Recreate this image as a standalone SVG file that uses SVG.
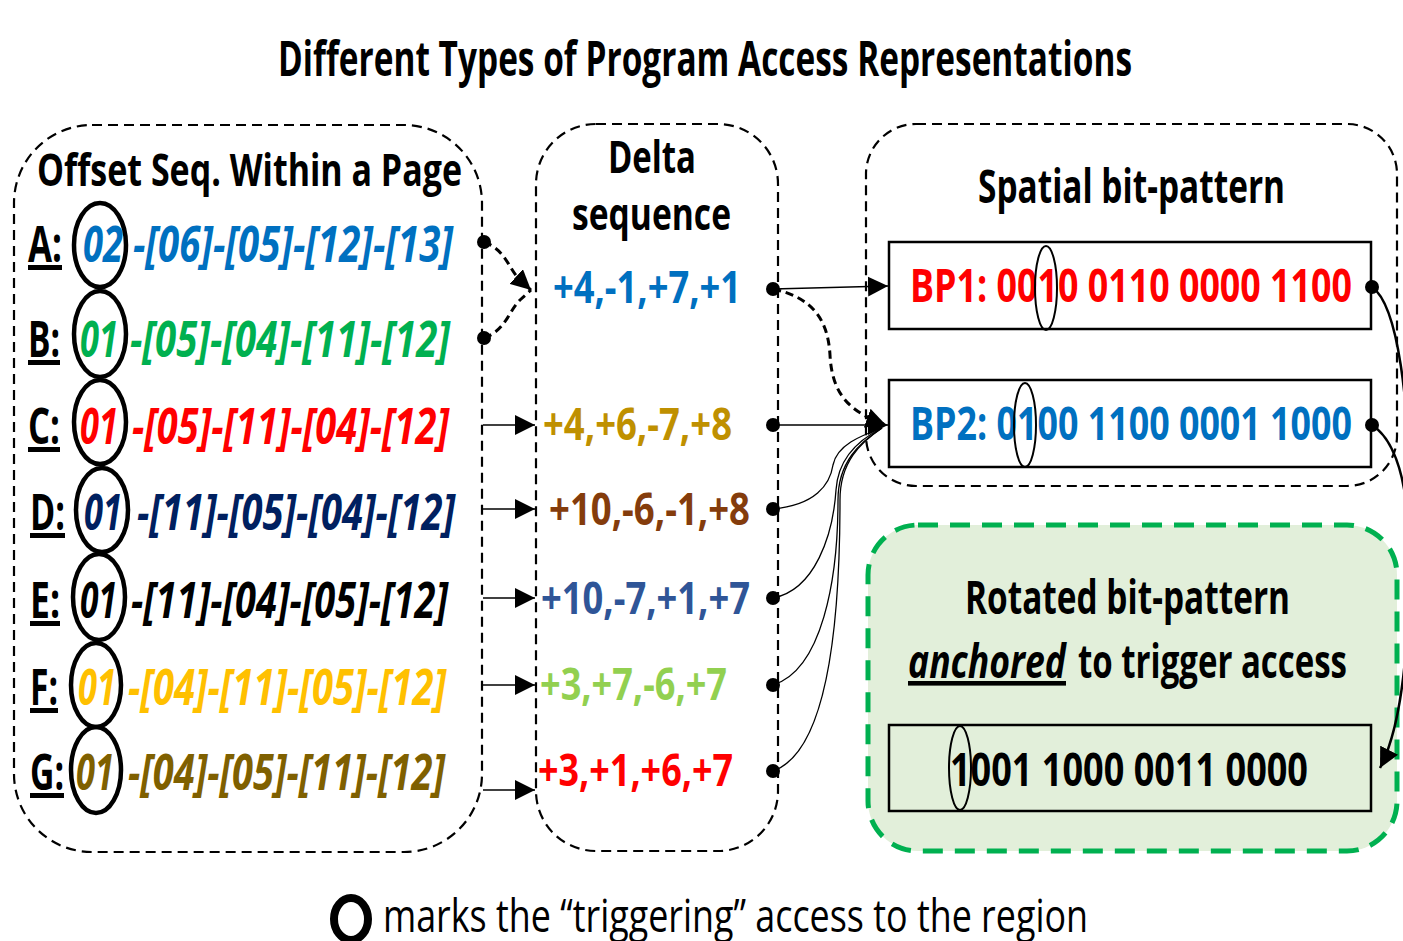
<svg xmlns="http://www.w3.org/2000/svg" width="1403" height="941" viewBox="0 0 1403 941">
<style>
text{font-family:"Open Sans","Liberation Sans",sans-serif;font-weight:bold;}
.reg{font-weight:normal;}
.it{font-style:italic;}
.ul{text-decoration:underline;}
.box{fill:none;stroke:#000;stroke-width:2.2;stroke-dasharray:10,6;}
.bp{fill:none;stroke:#000;stroke-width:2.5;}
.ring{fill:none;stroke:#000;stroke-width:4.5;}
.thin{fill:none;stroke:#000;stroke-width:2;}
.conn{fill:none;stroke:#000;stroke-width:1.3;}
.dash{fill:none;stroke:#000;stroke-width:3;stroke-dasharray:8,5;}
.dot{fill:#000;}
</style>
<defs>
<marker id="ahb" viewBox="0 0 10 10" refX="10" refY="5" markerWidth="20" markerHeight="20" markerUnits="userSpaceOnUse" orient="auto">
<path d="M0,0 L10,5 L0,10 z" fill="#000"/>
</marker>
</defs>
<rect width="1403" height="941" fill="#fff"/>

<text id="title" x="278" y="76" font-size="49" textLength="854" lengthAdjust="spacingAndGlyphs">Different Types of Program Access Representations</text>

<g id="offsets">
<rect class="box" x="14" y="125" width="468" height="727" rx="78" ry="78"/>
<text x="37" y="186" font-size="45" textLength="425" lengthAdjust="spacingAndGlyphs">Offset Seq. Within a Page</text>
<g id="rowA">
<text class="ul" x="28" y="262" font-size="50" textLength="34" lengthAdjust="spacingAndGlyphs">A:</text>
<text class="it" x="83" y="262" font-size="50" fill="#0070C0" textLength="40" lengthAdjust="spacingAndGlyphs">02</text>
<text class="it" x="133" y="262" font-size="50" fill="#0070C0" textLength="320" lengthAdjust="spacingAndGlyphs">-[06]-[05]-[12]-[13]</text>
<ellipse class="ring" cx="100" cy="245" rx="26" ry="42"/>
</g>
<g id="rowB">
<text class="ul" x="28" y="357" font-size="50" textLength="32" lengthAdjust="spacingAndGlyphs">B:</text>
<text class="it" x="80" y="357" font-size="50" fill="#00B050" textLength="38" lengthAdjust="spacingAndGlyphs">01</text>
<text class="it" x="130" y="357" font-size="50" fill="#00B050" textLength="320" lengthAdjust="spacingAndGlyphs">-[05]-[04]-[11]-[12]</text>
<ellipse class="ring" cx="100" cy="334" rx="26" ry="43"/>
</g>
<g id="rowC">
<text class="ul" x="28" y="444" font-size="50" textLength="32" lengthAdjust="spacingAndGlyphs">C:</text>
<text class="it" x="80" y="444" font-size="50" fill="#FF0000" textLength="38" lengthAdjust="spacingAndGlyphs">01</text>
<text class="it" x="132" y="444" font-size="50" fill="#FF0000" textLength="317" lengthAdjust="spacingAndGlyphs">-[05]-[11]-[04]-[12]</text>
<ellipse class="ring" cx="100" cy="422" rx="26" ry="42"/>
</g>
<g id="rowD">
<text class="ul" x="30" y="530" font-size="50" textLength="35" lengthAdjust="spacingAndGlyphs">D:</text>
<text class="it" x="84" y="530" font-size="50" fill="#002060" textLength="38" lengthAdjust="spacingAndGlyphs">01</text>
<text class="it" x="137" y="530" font-size="50" fill="#002060" textLength="318" lengthAdjust="spacingAndGlyphs">-[11]-[05]-[04]-[12]</text>
<ellipse class="ring" cx="102" cy="510" rx="26" ry="42"/>
</g>
<g id="rowE">
<text class="ul" x="30" y="618" font-size="50" textLength="30" lengthAdjust="spacingAndGlyphs">E:</text>
<text class="it" x="80" y="618" font-size="50" fill="#000" textLength="37" lengthAdjust="spacingAndGlyphs">01</text>
<text class="it" x="131" y="618" font-size="50" fill="#000" textLength="317" lengthAdjust="spacingAndGlyphs">-[11]-[04]-[05]-[12]</text>
<ellipse class="ring" cx="99" cy="597" rx="26" ry="43"/>
</g>
<g id="rowF">
<text class="ul" x="30" y="705" font-size="50" textLength="28" lengthAdjust="spacingAndGlyphs">F:</text>
<text class="it" x="78" y="705" font-size="50" fill="#FFC000" textLength="38" lengthAdjust="spacingAndGlyphs">01</text>
<text class="it" x="128" y="705" font-size="50" fill="#FFC000" textLength="318" lengthAdjust="spacingAndGlyphs">-[04]-[11]-[05]-[12]</text>
<ellipse class="ring" cx="96" cy="685" rx="25" ry="42"/>
</g>
<g id="rowG">
<text class="ul" x="30" y="790" font-size="50" textLength="34" lengthAdjust="spacingAndGlyphs">G:</text>
<text class="it" x="76" y="790" font-size="50" fill="#7F6000" textLength="38" lengthAdjust="spacingAndGlyphs">01</text>
<text class="it" x="128" y="790" font-size="50" fill="#7F6000" textLength="317" lengthAdjust="spacingAndGlyphs">-[04]-[05]-[11]-[12]</text>
<ellipse class="ring" cx="96" cy="770" rx="25" ry="43"/>
</g>
</g>

<g id="deltas">
<rect class="box" x="536" y="124" width="242" height="727" rx="60" ry="60"/>
<text x="608" y="173" font-size="44" textLength="88" lengthAdjust="spacingAndGlyphs">Delta</text>
<text x="572" y="230" font-size="44" textLength="159" lengthAdjust="spacingAndGlyphs">sequence</text>
<text x="553" y="303" font-size="45" fill="#0070C0" textLength="188" lengthAdjust="spacingAndGlyphs">+4,-1,+7,+1</text>
<text x="543" y="440" font-size="45" fill="#BF9000" textLength="189" lengthAdjust="spacingAndGlyphs">+4,+6,-7,+8</text>
<text x="549" y="525" font-size="45" fill="#843C0C" textLength="201" lengthAdjust="spacingAndGlyphs">+10,-6,-1,+8</text>
<text x="541" y="614" font-size="45" fill="#2F5597" textLength="209" lengthAdjust="spacingAndGlyphs">+10,-7,+1,+7</text>
<text x="540" y="700" font-size="45" fill="#92D050" textLength="187" lengthAdjust="spacingAndGlyphs">+3,+7,-6,+7</text>
<text x="538" y="786" font-size="45" fill="#FF0000" textLength="195" lengthAdjust="spacingAndGlyphs">+3,+1,+6,+7</text>
</g>

<g id="spatial">
<rect class="box" x="866" y="124" width="531" height="362" rx="50" ry="50"/>
<text x="978" y="203" font-size="46" textLength="307" lengthAdjust="spacingAndGlyphs">Spatial bit-pattern</text>
<g id="bp1">
<rect class="bp" x="889" y="242" width="482" height="87" fill="#fff"/>
<text x="910" y="302" font-size="46" fill="#FF0000" textLength="442" lengthAdjust="spacingAndGlyphs">BP1: 0010 0110 0000 1100</text>
<ellipse class="thin" cx="1046" cy="288" rx="11" ry="42"/>
</g>
<g id="bp2">
<rect class="bp" x="889" y="380" width="482" height="87" fill="#fff"/>
<text x="910" y="440" font-size="46" fill="#0070C0" textLength="442" lengthAdjust="spacingAndGlyphs">BP2: 0100 1100 0001 1000</text>
<ellipse class="thin" cx="1025" cy="425" rx="11" ry="42"/>
</g>
</g>

<g id="rotated">
<rect x="868" y="525" width="529" height="326" rx="50" ry="50" fill="#E2EFDA" stroke="#00B050" stroke-width="5" stroke-dasharray="20,12"/>
<text x="965" y="614" font-size="46" textLength="325" lengthAdjust="spacingAndGlyphs">Rotated bit-pattern</text>
<text class="it ul" x="908" y="678" font-size="46" textLength="158" lengthAdjust="spacingAndGlyphs">anchored</text>
<text x="1078" y="678" font-size="46" textLength="269" lengthAdjust="spacingAndGlyphs">to trigger access</text>
<rect class="bp" x="889" y="725" width="482" height="86" fill="none"/>
<text x="950" y="786" font-size="46" textLength="358" lengthAdjust="spacingAndGlyphs">1001 1000 0011 0000</text>
<ellipse class="thin" cx="960" cy="768" rx="11" ry="42"/>
</g>

<g id="connectors">
<path class="dash" d="M484,242 C506,250 508,268 520,280 L531,290" marker-end="url(#ahb)"/>
<path class="dash" d="M484,338 C506,330 508,312 520,300 L531,290"/>
<circle class="dot" cx="484" cy="242" r="7"/>
<circle class="dot" cx="484" cy="338" r="7"/>
<path class="conn" d="M483,425 L535,425" marker-end="url(#ahb)"/>
<path class="conn" d="M483,509 L535,509" marker-end="url(#ahb)"/>
<path class="conn" d="M483,598 L535,598" marker-end="url(#ahb)"/>
<path class="conn" d="M483,685 L535,685" marker-end="url(#ahb)"/>
<path class="conn" d="M483,790 L535,790" marker-end="url(#ahb)"/>

<path class="conn" d="M773,289 L888,286" marker-end="url(#ahb)"/>
<path class="dash" d="M773,289 C815,298 828,322 830,355 C832,395 850,412 886,425" marker-end="url(#ahb)"/>
<path class="conn" d="M773,425 L888,425" marker-end="url(#ahb)"/>
<path class="conn" d="M773,509 C815,505 830,485 833,465 C837,445 860,436 882,428"/>
<path class="conn" d="M773,598 C815,590 833,535 836,490 C838,458 858,440 882,428"/>
<path class="conn" d="M773,685 C822,670 838,580 838,500 C838,462 860,442 882,428"/>
<path class="conn" d="M773,771 C828,752 840,620 840,500 C840,462 860,443 882,428"/>
<circle class="dot" cx="773" cy="289" r="7"/>
<circle class="dot" cx="773" cy="425" r="7"/>
<circle class="dot" cx="773" cy="509" r="7"/>
<circle class="dot" cx="773" cy="598" r="7"/>
<circle class="dot" cx="773" cy="685" r="7"/>
<circle class="dot" cx="773" cy="771" r="7"/>

<path fill="none" stroke="#000" stroke-width="2.5" d="M1372,287 C1398,305 1410,400 1410,520 C1410,650 1402,725 1380,768" marker-end="url(#ahb)"/>
<path fill="none" stroke="#000" stroke-width="2.5" d="M1372,425 C1392,438 1404,470 1408,520"/>
<circle class="dot" cx="1372" cy="287" r="7"/>
<circle class="dot" cx="1372" cy="425" r="7"/>
</g>

<g id="legend">
<ellipse cx="351" cy="919" rx="17" ry="21" fill="none" stroke="#000" stroke-width="8"/>
<text class="reg" x="383" y="932" font-size="45" textLength="705" lengthAdjust="spacingAndGlyphs">marks the “triggering” access to the region</text>
</g>
</svg>
